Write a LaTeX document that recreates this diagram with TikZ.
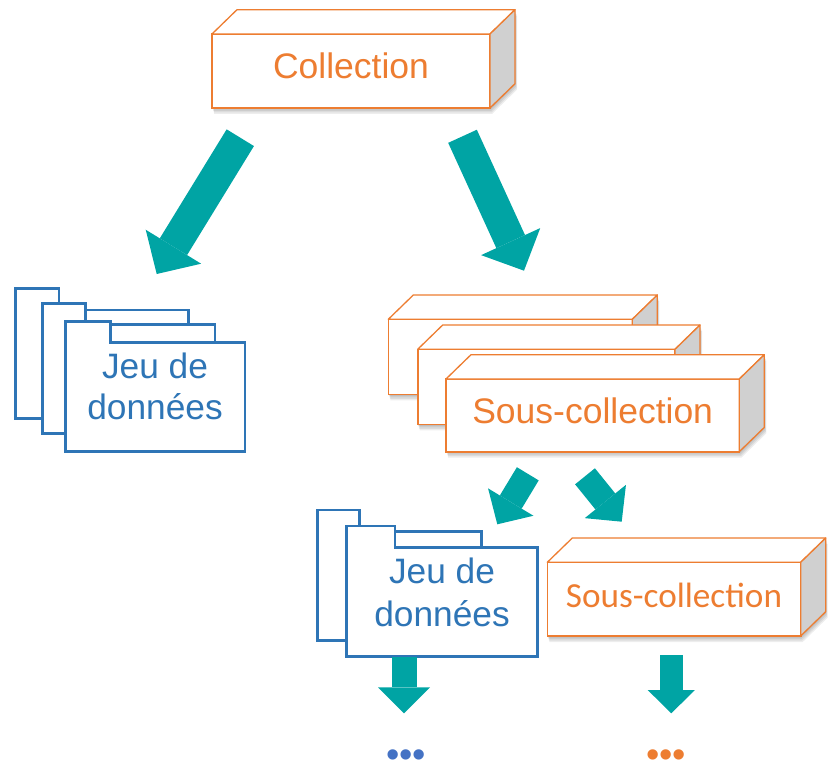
\documentclass[tikz,border=0pt]{standalone}
\usepackage{fontspec}
\setmainfont{Liberation Sans}
\newfontfamily\carlito{Carlito}
\usetikzlibrary{arrows.meta}
\definecolor{boxorange}{RGB}{237,125,49}
\definecolor{folderblue}{RGB}{46,117,182}
\definecolor{arrowteal}{RGB}{0,164,164}
\definecolor{sidegray}{RGB}{208,208,208}
\definecolor{dotblue}{RGB}{68,114,196}
\tikzset{
  frontbox/.style={draw=boxorange, fill=white, line width=1.6pt, inner sep=0pt, outer sep=0pt,
    text=boxorange, text height=25pt, text depth=9pt, font=\fontsize{35.5}{42}\selectfont},
  topface/.style={draw=boxorange, fill=white, line width=1.3pt, line join=round},
  sideface/.style={draw=boxorange, fill=sidegray, line width=1.3pt, line join=round},
  sheet/.style={draw=folderblue, fill=white, line width=2.7pt},
  ftext/.style={anchor=base, text=folderblue, inner sep=0pt, font=\fontsize{35.3}{41}\selectfont},
  blockarrow/.style n args={3}{draw=arrowteal, line width=#1,
    -{Triangle[width=#2, length=#3, line width=0pt]}},
  dotstext/.style={inner sep=0pt, font=\fontsize{38}{40}\selectfont}
}
\newcommand\mycuboid[7]{%
  \foreach \s in {1,2,3,4}{
    \fill[black, opacity=0.07, shift={(0.5*\s,1.5*\s)}] (#2,#3) -- ++(25,-24.3) -- ++(#4,0) -- ++(0,#5) -- ++(-25,24.3) -- ++(-#4,0) -- cycle;
  }
  \node[frontbox, #6, minimum width=#4pt, minimum height=#5pt, anchor=north west] (#1) at (#2,#3) {#7};
  \draw[topface] (#1.north west) -- ++(25,-24.3) -- ++(#4,0) -- (#1.north east) -- cycle;
  \draw[sideface] (#1.north east) -- ++(25,-24.3) -- ++(0,#5) -- (#1.south east) -- cycle;
}
\newcommand\myfolder[8]{%
  \filldraw[sheet] (#3,#6) -- (#3,#4) -- (#5,#4) -- (#5,#6);
  \filldraw[sheet] (#1,#8) -- (#1,#2) -- (#3,#2) -- (#3,#6) -- (#7,#6) -- (#7,#8) -- cycle;
}
\begin{document}
\begin{tikzpicture}[x=1pt, y=-1pt]
\useasboundingbox (0,0) rectangle (833,765);

% top collection
\mycuboid{coll}{212}{34}{278}{74}{}{Collection}

% arrows from collection
\coordinate (a1s) at (240.3,137.7);
\coordinate (a1e) at (156.7,274);
\draw[blockarrow={32pt}{65pt}{32pt}] (a1s) -- (a1e);
\coordinate (a2s) at (462.5,136.3);
\coordinate (a2e) at (524,270.7);
\draw[blockarrow={31.5pt}{65pt}{32pt}] (a2s) -- (a2e);

% upper-left folder stack
\myfolder{15.7}{288.7}{59}{320}{160}{350}{200}{418.3}
\myfolder{42.3}{303.3}{85.7}{310}{188.3}{345}{230}{433.3}
\myfolder{65.7}{321.7}{110.7}{324.3}{215}{342.3}{245}{451.7}
\node[ftext] (jeu1) at (155,378.3) {Jeu de};
\node[ftext] (don1) at (155,419) {données};

% sub-collection stack
\mycuboid{sc1}{388.3}{319.3}{244}{75}{}{}
\mycuboid{sc2}{417.7}{349.3}{257.3}{75}{}{}
\mycuboid{sc3}{446}{379}{293.3}{72.7}{}{Sous-collection}

% small arrows
\coordinate (a3s) at (527.8,473.8);
\coordinate (a3e) at (497.3,524.3);
\draw[blockarrow={25.5pt}{53pt}{26pt}] (a3s) -- (a3e);
\coordinate (a4s) at (585,476.3);
\coordinate (a4e) at (621.7,521.7);
\draw[blockarrow={25.5pt}{53pt}{26pt}] (a4s) -- (a4e);

% lower folder stack
\myfolder{317.3}{510}{359.3}{535}{450}{550}{500}{640.7}
\myfolder{346.7}{526}{395}{531.7}{481.7}{547.7}{537.3}{656.7}
\node[ftext] (jeu2) at (442,583.3) {Jeu de};
\node[ftext] (don2) at (442,626.7) {données};

% lower sub-collection
\mycuboid{sc4}{547.3}{562.3}{253.4}{73.7}{font=\carlito\fontsize{35.2}{42}\selectfont}{Sous-collection}

% bottom arrows
\coordinate (a5s) at (404,656.7);
\coordinate (a5e) at (404,713.3);
\draw[blockarrow={25pt}{52pt}{26pt}] (a5s) -- (a5e);
\coordinate (a6s) at (671.3,655);
\coordinate (a6e) at (671.3,713.3);
\draw[blockarrow={22.7pt}{47.3pt}{23.3pt}] (a6s) -- (a6e);

% ellipses
\node[dotstext, text=dotblue] (more1) at (406.3,758.3) {•••};
\node[dotstext, text=boxorange] (more2) at (666.3,758.3) {•••};
\end{tikzpicture}
\end{document}
